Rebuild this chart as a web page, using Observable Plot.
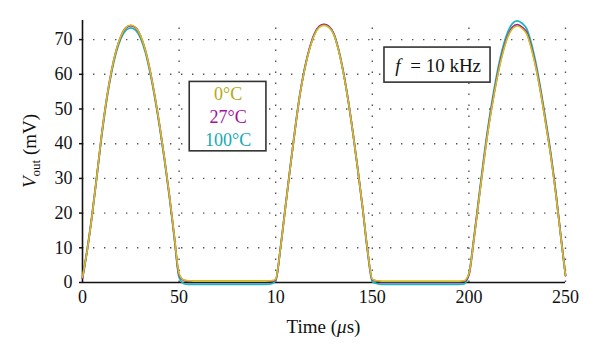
<!DOCTYPE html>
<html><head><meta charset="utf-8">
<script src="https://cdn.jsdelivr.net/npm/d3@7"></script>
<script src="https://cdn.jsdelivr.net/npm/@observablehq/plot@0.6"></script>
<style>
body{margin:0;background:#fff}
svg, svg text{font-family:"Liberation Serif","Times New Roman","DejaVu Serif",serif !important}
</style>
</head><body><div id="chart"></div>
<script>
// Sample times (μs)
const time = [0,2.5,5,7.5,10,12.5,15,17.5,20,22.5,25,27.5,30,32.5,35,37.5,40,42.5,45,47.5,
50,52.5,55,57.5,60,62.5,65,67.5,70,72.5,75,77.5,80,82.5,85,87.5,90,92.5,95,97.5,
100,102.5,105,107.5,110,112.5,115,117.5,120,122.5,125,127.5,130,132.5,135,137.5,140,142.5,145,147.5,
150,152.5,155,157.5,160,162.5,165,167.5,170,172.5,175,177.5,180,182.5,185,187.5,190,192.5,195,197.5,
200,202.5,205,207.5,210,212.5,215,217.5,220,222.5,225,227.5,230,232.5,235,237.5,240,242.5,245,247.5,250];

// Vout (mV) at 0°C
const v0C = [1.5,9.5,19.5,31,43,53,61,67,71.2,73.5,74.2,73.5,71.2,67,61,53.5,45,35.5,25,13.5,
2.5,0.7,0.5,0.4,0.4,0.4,0.4,0.4,0.4,0.4,0.4,0.4,0.4,0.4,0.4,0.4,0.4,0.4,0.4,0.5,
1,10,21.5,33,44,54,61.5,67.2,71.3,73.5,74.1,73.5,71.5,67,60.5,52.5,43,32.5,21.5,9.5,
1,0.5,0.4,0.4,0.4,0.4,0.4,0.4,0.4,0.4,0.4,0.4,0.4,0.4,0.4,0.4,0.4,0.4,0.4,0.5,
2.5,12,23,34,44,52.5,60,66,70.5,73.1,73.9,73.2,71.5,67,61,53.5,45,36,25.5,13.5,2];

// Vout (mV) at 27°C
const v27C = [1.2,9.5,19.5,31,43,53,61,67,71.1,73.4,74.0,73.4,71.1,67,61,53.5,45,35.5,25,13.3,
2.2,0.6,0.3,0.3,0.3,0.3,0.3,0.3,0.3,0.3,0.3,0.3,0.3,0.3,0.3,0.3,0.3,0.3,0.3,0.3,
0.8,10,21.5,33,44,54,61.6,67.4,71.6,73.8,74.4,73.8,71.7,67.1,60.6,52.5,43,32.5,21.5,9.5,
0.8,0.4,0.2,0.2,0.2,0.2,0.2,0.2,0.2,0.2,0.2,0.2,0.2,0.2,0.2,0.2,0.2,0.2,0.2,0.3,
2.2,12,23.2,34.2,44.3,52.8,60.3,66.4,70.9,73.5,74.3,73.6,71.9,67.4,61.3,53.8,45.2,36.2,25.7,13.6,2];

// Vout (mV) at 100°C
const v100C = [1.5,9.8,19.8,31,42.5,52.5,60.4,66.4,70.5,72.7,73.4,72.7,70.5,66.4,60.4,53,44.5,35,24.5,13,
1.5,-0.3,-0.5,-0.5,-0.5,-0.5,-0.5,-0.5,-0.5,-0.5,-0.5,-0.5,-0.5,-0.5,-0.5,-0.5,-0.5,-0.5,-0.5,-0.4,
0.5,10.2,21.8,33.2,44.2,54.2,61.7,67.4,71.5,73.7,74.3,73.7,71.7,67.2,60.7,52.6,43.1,32.6,21.4,9.2,
0.3,-0.3,-0.5,-0.5,-0.5,-0.5,-0.5,-0.5,-0.5,-0.5,-0.5,-0.5,-0.5,-0.5,-0.5,-0.5,-0.5,-0.5,-0.5,-0.4,
2.5,12.5,23.8,35,45.2,53.9,61.5,67.6,72,74.6,75.4,74.7,73,68.5,62.3,54.6,46,36.8,26,13.8,2];

const seriesNames = ["0°C", "27°C", "100°C"];
const xTicks = [0, 50, 100, 150, 200, 250];
const xTickLabels = ["0", "50", "10", "150", "200", "250"];
const yTicks = [0, 10, 20, 30, 40, 50, 60, 70];
const xGrid = [50, 100, 150, 200, 250];
const yGrid = [10, 20, 30, 40, 50, 60, 70];
const freqLabel = "= 10 kHz";

// styling / layout
const FONT = '"Liberation Serif","Times New Roman","DejaVu Serif",serif';
const lineColors = {"0°C": "#cfc21e", "27°C": "#a3189b", "100°C": "#1fb3bc"};
const textColors = {"0°C": "#b3aa14", "27°C": "#a0129c", "100°C": "#14a9b3"};
const yTop = 75.5;
const legendBox = {x1: 55.5, x2: 95.2, y1: 37.8, y2: 57.8};
const legendText = {x: 75.4, y: [54.3, 47.7, 41.0]};
const freqBox = {x1: 156.3, x2: 211.2, y1: 57.6, y2: 67.7};
const freqText = {fx: 163.3, tx: 169.6, y: 62.4};

const mk = vals => time.map((t, i) => ({t, v: vals[i]}));
const rows = {"0°C": mk(v0C), "27°C": mk(v27C), "100°C": mk(v100C)};
const legendRows = seriesNames.map((s, i) => ({s, x: legendText.x, y: legendText.y[i]}));

const plot = Plot.plot({
  width: 600, height: 360,
  marginLeft: 82, marginRight: 35, marginTop: 20, marginBottom: 78,
  x: {domain: [0, 250]},
  y: {domain: [0, yTop]},
  style: {fontFamily: FONT, fontSize: "18px", color: "#111", background: "#fff"},
  marks: [
    Plot.ruleY(yGrid, {x1: 0, x2: 250, stroke: "#555", strokeWidth: 1.4, strokeDasharray: "1.4,9.6", strokeDashoffset: -11}),
    Plot.ruleX(xGrid, {y1: 0, y2: yTop, stroke: "#555", strokeWidth: 1.4, strokeDasharray: "1.4,9.6"}),
    Plot.axisX({ticks: xTicks, tickFormat: d => xTickLabels[xTicks.indexOf(d)], tickSize: 0, tickPadding: 8, label: null, fontSize: 18, fontFamily: FONT}),
    Plot.axisY({ticks: yTicks, tickSize: 3, tickPadding: 7, label: null, fontSize: 18, fontFamily: FONT, strokeWidth: 1.5}),
    Plot.ruleY([0], {x1: 0, x2: 250, stroke: "#111", strokeWidth: 1.6}),
    Plot.ruleX([0], {y1: 0, y2: yTop, stroke: "#111", strokeWidth: 1.6}),
    Plot.line(rows["100°C"], {x: "t", y: "v", stroke: lineColors["100°C"], strokeWidth: 1.8, curve: "monotone-x"}),
    Plot.line(rows["27°C"], {x: "t", y: "v", stroke: lineColors["27°C"], strokeWidth: 1.8, curve: "monotone-x"}),
    Plot.line(rows["0°C"], {x: "t", y: "v", stroke: lineColors["0°C"], strokeWidth: 1.6, curve: "monotone-x"}),
    Plot.rect([legendBox], {x1: "x1", x2: "x2", y1: "y1", y2: "y2", fill: "white", stroke: "#333", strokeWidth: 1.6}),
    Plot.text(legendRows, {x: "x", y: "y", text: "s", fill: d => textColors[d.s], fontSize: 18, fontFamily: FONT, textAnchor: "middle"}),
    Plot.rect([freqBox], {x1: "x1", x2: "x2", y1: "y1", y2: "y2", fill: "white", stroke: "#333", strokeWidth: 1.6}),
    Plot.text(["f"], {x: freqText.fx, y: freqText.y, text: d => d, fontSize: 19, fontFamily: FONT, fontStyle: "italic", fill: "#111", textAnchor: "middle"}),
    Plot.text([freqLabel], {x: freqText.tx, y: freqText.y, text: d => d, fontSize: 19, fontFamily: FONT, fill: "#111", textAnchor: "start"})
  ]
});

document.getElementById("chart").appendChild(plot);

// axis titles with italic / subscript parts
const svg = d3.select(plot);
const xr = plot.scale("x").range, yr = plot.scale("y").range;
const xt = svg.append("text").attr("x", (xr[0] + xr[1]) / 2).attr("y", 333)
  .attr("text-anchor", "middle").attr("font-size", 19).attr("fill", "#111");
xt.append("tspan").text("Time (");
xt.append("tspan").attr("font-style", "italic").text("μ");
xt.append("tspan").text("s)");

const yt = svg.append("text")
  .attr("transform", `translate(36,${(yr[0] + yr[1]) / 2}) rotate(-90)`)
  .attr("text-anchor", "middle").attr("font-size", 19).attr("fill", "#111");
yt.append("tspan").attr("font-style", "italic").text("V");
yt.append("tspan").attr("font-size", 13).attr("dy", 4).text("out");
yt.append("tspan").attr("dy", -4).text(" (mV)");
</script>
</body></html>
